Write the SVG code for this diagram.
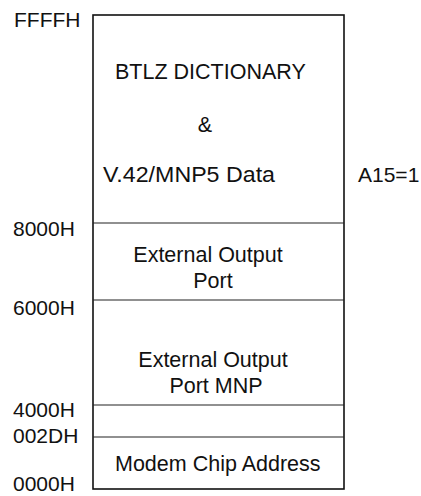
<svg xmlns="http://www.w3.org/2000/svg" width="421" height="496" viewBox="0 0 421 496">
<style>
text{font-family:"Liberation Sans",Arial,Helvetica,sans-serif;font-size:21.5px;fill:#111}
.lbl{font-size:21px}
.mid{text-anchor:middle}
.frame{fill:none;stroke:#111;stroke-width:1.6}
.div{stroke:#222;stroke-width:1.1}
</style>
<rect width="421" height="496" fill="#fff"/>
<g id="addresses">
<text class="lbl" x="14" y="27">FFFFH</text>
<text class="lbl" x="13" y="236">8000H</text>
<text class="lbl" x="13" y="315">6000H</text>
<text class="lbl" x="13" y="417">4000H</text>
<text class="lbl" x="13" y="443">002DH</text>
<text class="lbl" x="13" y="491">0000H</text>
<text class="lbl" x="358" y="182">A15=1</text>
</g>
<g id="memory-map">
<rect class="frame" x="93" y="15" width="251" height="474"/>
</g>
<g id="connectors">
<line class="div" x1="93" y1="223" x2="344" y2="223"/>
<line class="div" x1="93" y1="300" x2="344" y2="300"/>
<line class="div" x1="93" y1="405" x2="344" y2="405"/>
<line class="div" x1="93" y1="437" x2="344" y2="437"/>
</g>
<g id="btlz">
<text x="115" y="79">BTLZ DICTIONARY</text>
<text class="mid" x="205" y="132">&amp;</text>
<text x="103" y="182" textLength="172" lengthAdjust="spacingAndGlyphs">V.42/MNP5 Data</text>
</g>
<g id="ext-port">
<text class="mid" x="208" y="262">External Output</text>
<text class="mid" x="213" y="288">Port</text>
</g>
<g id="ext-port-mnp">
<text class="mid" x="213" y="367">External Output</text>
<text class="mid" x="216" y="393">Port MNP</text>
</g>
<g id="modem">
<text x="115" y="471">Modem Chip Address</text>
</g>
</svg>
